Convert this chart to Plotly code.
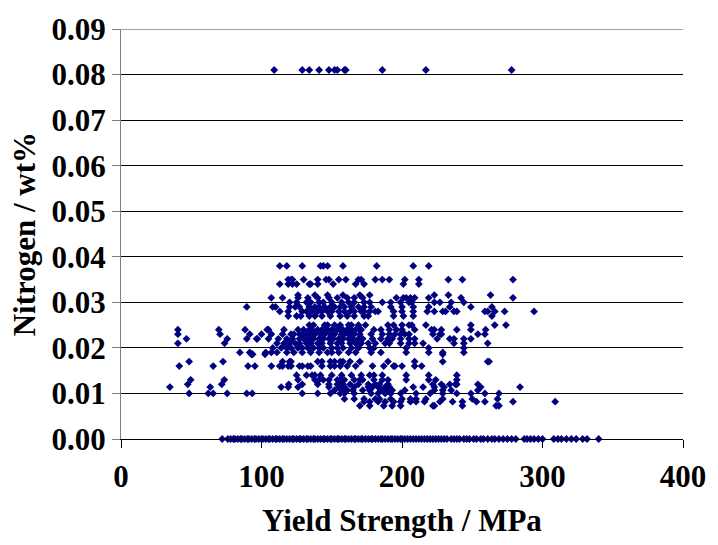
import plotly.graph_objects as go

# Nitrogen levels (wt%) and yield strengths (MPa), row by row
ys_n0810 = [109, 129, 134, 141, 148, 152, 154, 159, 160, 186, 217, 278]
ys_n0380 = [113, 118, 129, 142, 144, 147, 158, 182, 208, 219]
ys_n0350 = [119, 121, 122, 130, 140, 146, 148, 155, 160, 169, 171, 181, 186, 191, 202, 212, 233, 243, 279]
ys_n0340 = [113, 119, 122, 125, 134, 135, 140, 151, 167, 173, 201, 212]
ys_n0316 = [126, 138, 147, 158, 170, 177, 223, 233, 263]
ys_n0310 = [107, 115, 126, 133, 140, 148, 154, 161, 166, 172, 196, 201, 203, 206, 209, 219, 242, 279]
ys_n0300 = [120, 125, 132, 135, 141, 144, 150, 157, 162, 166, 173, 177, 186, 192, 199, 205, 207, 223, 227, 235, 244]
ys_n0290 = [89.5, 108, 110, 120, 124, 127, 134, 138, 141, 145, 149, 152, 156, 159, 164, 169, 173, 178, 192, 200,
            208, 219, 234, 249, 264]
ys_n0280 = [113, 119, 129, 132, 136, 140, 143, 147, 150, 155, 159, 163, 166, 171, 173, 177, 181, 183, 194, 200,
            208, 218, 223, 229, 231, 237, 239, 259, 261, 266, 273, 294]
ys_n0270 = [119, 125, 128, 134, 138, 143, 149, 156, 161, 166, 173, 176, 194, 201, 208, 264]
ys_n0250 = [134, 137, 145, 147, 152, 156, 162, 164, 169, 174, 190, 194, 200, 205, 207, 217, 249, 266, 274]
ys_n0240 = [40.5, 69.6, 88.3, 104, 105, 116, 126, 130, 134, 136, 140, 143, 147, 150, 154, 156, 158, 161, 164, 167,
            170, 171, 180, 185, 191, 196, 200, 209, 221, 223, 228, 239, 249, 259.5]
ys_n0230 = [40.5, 70.5, 91.6, 100, 107, 115, 121, 123, 127, 129, 132, 135, 138, 142, 145, 149, 152, 157, 159, 162,
            164, 166, 170, 178, 186, 191, 195, 199, 202, 205, 222, 227, 228, 254, 259]
ys_n0220 = [46.6, 75.6, 89.5, 96.5, 97, 105, 112, 118, 122, 127, 130, 134, 137, 141, 144, 148, 151, 155, 158, 162,
            165, 169, 172, 179, 185, 190, 193, 199, 205, 209, 225, 234, 237, 244, 249]
ys_n0210 = [40.5, 73.7, 111, 116, 120, 124, 127, 132, 135, 140, 143, 149, 154, 157, 163, 167, 171, 176, 181, 188,
            191, 199, 205, 209, 215, 237, 244, 261]
ys_n0200 = [108, 114, 118, 121, 126, 129, 133, 137, 141, 144, 150, 154, 158, 164, 169, 177, 180, 203, 219, 244]
ys_n0190 = [84.6, 91.6, 103, 107, 111, 118, 123, 129, 135, 141, 147, 150, 155, 162, 167, 178, 185, 203, 219, 229, 244]
ys_n0186 = [92.8, 93.7, 102.5, 229]
ys_n0170 = [48.5, 72.6, 115, 120, 121, 140, 143, 149, 152, 156, 158, 163, 170, 190, 209, 229, 261, 262]
ys_n0160 = [41.5, 65.6, 90.4, 95.3, 107, 113, 115, 119, 121, 127, 129, 133, 135, 143, 149, 152, 156, 161, 167, 179,
            187, 194, 195, 200, 209, 214]
ys_n0140 = [125, 132, 136, 138, 142, 150, 157, 164, 171, 177, 180, 186, 203, 219, 239]
ys_n0130 = [49.6, 73.5, 126, 138, 141, 144, 148, 154, 156, 159, 166, 170, 172, 180, 186, 190, 203, 219, 224, 239]
ys_n0120 = [47.5, 71.7, 119.4, 129, 140, 148, 154, 156, 158, 163, 169, 176, 181, 184, 190, 222, 228, 234, 238, 239, 254]
ys_n0114 = [34.8, 63.5, 114, 119, 126, 148, 155, 159, 166, 176, 179, 183, 188, 191, 208, 215, 223, 230, 256, 284]
ys_n0107 = [152, 158, 161, 165, 172, 177, 185, 190, 193, 202, 223, 229, 235, 254]
ys_n0100 = [48.5, 62.1, 65.6, 75.6, 89.5, 93.4, 129, 140, 149, 156, 159, 166, 178, 183, 188, 192, 199, 210, 220, 229,
            239, 249, 259, 269]
ys_n0088 = [159, 166, 173, 181, 184, 192, 200, 206, 210, 217, 229, 250, 268]
ys_n0082 = [173, 177, 183, 188, 194, 199, 206, 210, 216, 227, 236, 243, 253, 259, 279, 309]
ys_n0073 = [170, 177, 187, 193, 199, 222, 223, 243, 267, 269]
ys_n0000 = [72, 76, 78, 80, 81, 83, 85, 86, 88, 90, 91, 93, 95, 96, 98, 100, 101, 103, 105, 106, 108, 110, 111, 113,
            115, 116, 118, 120, 122, 123, 125, 127, 128, 130, 132, 133, 135, 137, 138, 140, 142, 144, 145, 147, 149,
            150, 152, 154, 155, 157, 159, 160, 162, 164, 166, 167, 169, 171, 172, 174, 176, 178, 179, 181, 183, 185,
            186, 188, 190, 192, 193, 195, 197, 199, 200, 202, 204, 206, 208, 210, 212, 214, 216, 218, 220, 222, 224,
            226, 228, 230, 232, 235, 237, 239, 241, 244, 246, 248, 251, 253, 256, 258, 261, 264, 266, 269, 272, 275,
            278, 281, 287, 289, 291.5, 294, 297, 300, 308, 311, 313.5, 317, 320.5, 324, 328.6, 331.7, 340]

nitrogen_levels = [0.081, 0.038, 0.035, 0.034, 0.0316, 0.031, 0.030, 0.029, 0.028, 0.027, 0.025, 0.024, 0.023,
                   0.022, 0.021, 0.020, 0.019, 0.0186, 0.017, 0.016, 0.014, 0.013, 0.012, 0.0114, 0.0107, 0.010,
                   0.0088, 0.0082, 0.0073, 0.0]
rows = [ys_n0810, ys_n0380, ys_n0350, ys_n0340, ys_n0316, ys_n0310, ys_n0300, ys_n0290, ys_n0280, ys_n0270,
        ys_n0250, ys_n0240, ys_n0230, ys_n0220, ys_n0210, ys_n0200, ys_n0190, ys_n0186, ys_n0170, ys_n0160,
        ys_n0140, ys_n0130, ys_n0120, ys_n0114, ys_n0107, ys_n0100, ys_n0088, ys_n0082, ys_n0073, ys_n0000]

x_ticks = [0, 100, 200, 300, 400]
y_ticks = [0.00, 0.01, 0.02, 0.03, 0.04, 0.05, 0.06, 0.07, 0.08, 0.09]

xs, ys = [], []
for n, row in zip(nitrogen_levels, rows):
    xs.extend(row)
    ys.extend([n] * len(row))

FONT = "Liberation Serif"
FS = 31

fig = go.Figure()
fig.add_trace(go.Scatter(
    x=xs, y=ys, mode="markers",
    marker=dict(symbol="diamond", size=6, color="#000080", line=dict(width=0)),
    cliponaxis=False, showlegend=False,
))

fig.update_layout(
    width=718, height=545,
    margin=dict(l=121, r=17, t=20, b=106),
    paper_bgcolor="white", plot_bgcolor="white",
    font=dict(family=FONT, size=FS, color="black", weight="bold"),
    xaxis=dict(
        range=[0, 400], tickvals=x_ticks, ticktext=[str(v) for v in x_ticks],
        showgrid=False, zeroline=False, showline=True, linecolor="black", linewidth=1,
        ticks="outside", ticklen=8, tickcolor="black",
        tickfont=dict(family=FONT, size=FS, weight="bold"),
        ticklabelstandoff=2, ticklabeloverflow="allow",
    ),
    yaxis=dict(
        range=[0, 0.09], tickvals=y_ticks, ticktext=[f"{v:.2f}" for v in y_ticks],
        showgrid=True, gridcolor="black", gridwidth=1,
        zeroline=False, showline=True, linecolor="#808080", linewidth=1,
        ticks="outside", ticklen=8, tickcolor="#808080",
        tickfont=dict(family=FONT, size=FS, weight="bold"),
    ),
    shapes=[
        dict(type="line", xref="paper", yref="y", x0=0, x1=1, y0=0.09, y1=0.09,
             line=dict(color="#808080", width=1.5), layer="above"),
    ],
    annotations=[
        dict(text="Yield Strength / MPa", xref="paper", yref="paper", x=0.5, y=-0.198,
             xanchor="center", yanchor="middle", showarrow=False,
             font=dict(family=FONT, size=FS, weight="bold")),
        dict(text="Nitrogen / wt%", xref="paper", yref="paper", x=-0.172, y=0.5,
             xanchor="center", yanchor="middle", showarrow=False, textangle=-90,
             font=dict(family=FONT, size=FS, weight="bold")),
    ],
)

fig.write_html("out.html")
